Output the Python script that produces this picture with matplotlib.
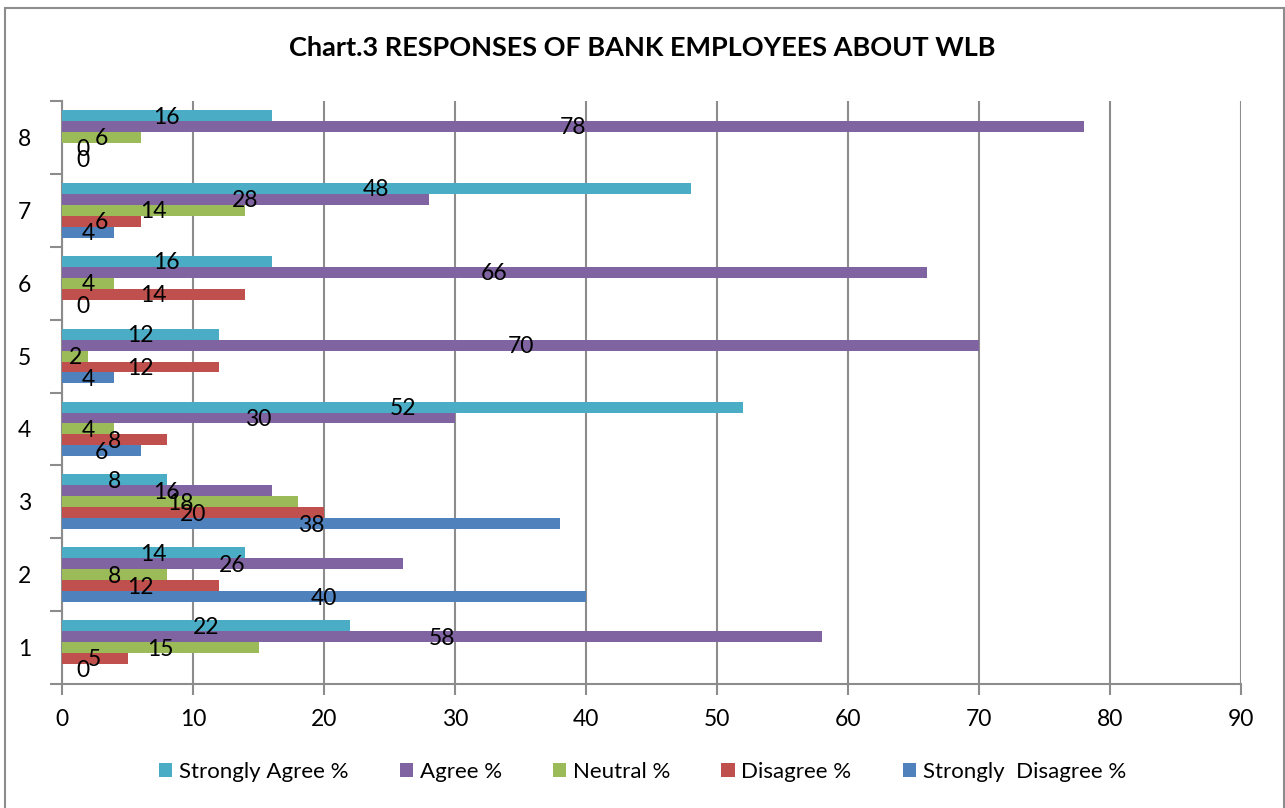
import numpy as np
import matplotlib.pyplot as plt
from matplotlib.patches import Rectangle

plt.rcParams['font.family'] = ['Lato', 'DejaVu Sans']

# Data
categories = ['1', '2', '3', '4', '5', '6', '7', '8']
strongly_disagree = [0, 40, 38, 6, 4, 0, 4, 0]
disagree = [5, 12, 20, 8, 12, 14, 6, 0]
neutral = [15, 8, 18, 4, 2, 4, 14, 6]
agree = [58, 26, 16, 30, 70, 66, 28, 78]
strongly_agree = [22, 14, 8, 52, 12, 16, 48, 16]

series = [
    ('Strongly  Disagree %', strongly_disagree, '#4F81BD'),
    ('Disagree %', disagree, '#C0504D'),
    ('Neutral %', neutral, '#9BBB59'),
    ('Agree %', agree, '#8064A2'),
    ('Strongly Agree %', strongly_agree, '#4BACC6'),
]

fig = plt.figure(figsize=(12.85, 8.08), dpi=100)
ax = fig.add_axes([62/1285, 1 - 684/808, (1241 - 62)/1285, (684 - 101)/808])

# outer chart border
fig.patches.append(Rectangle((5/1285, -0.01), (1284 - 5)/1285, 1 - 8/808 + 0.01,
                             transform=fig.transFigure, fill=False,
                             edgecolor='#8C8C8C', linewidth=1.5))

y = np.arange(len(categories))
h = 0.15
handles = {}
for i, (name, vals, col) in enumerate(series):
    pos = y + (i - 2) * h
    b = ax.barh(pos, vals, height=h, color=col, edgecolor='none', zorder=3)
    handles[name] = b
    for p, v in zip(pos, vals):
        xc = v / 2 if v > 0 else 1.6
        ax.text(xc, p - 0.02, str(v), ha='center', va='center', fontsize=16.5,
                color='black', zorder=5)

ax.set_xlim(0, 90)
ax.set_ylim(-0.5, len(categories) - 0.5)
ax.set_xticks(np.arange(0, 91, 10))
ax.set_yticks(y)
ax.set_yticklabels(categories)
ax.set_yticks(np.arange(-0.5, len(categories), 1), minor=True)
ax.tick_params(axis='y', which='major', length=0, pad=22, labelsize=16.5)
ax.tick_params(axis='y', which='minor', length=9, width=1.5, color='#8C8C8C')
ax.tick_params(axis='x', length=8, width=1.5, color='#8C8C8C', labelsize=16.5, pad=10)
ax.grid(axis='x', color='#8C8C8C', linewidth=1.5, zorder=0)
for s in ['top', 'right']:
    ax.spines[s].set_visible(False)
for s in ['left', 'bottom']:
    ax.spines[s].set_color('#8C8C8C')
    ax.spines[s].set_linewidth(1.5)

fig.text(0.5, 1 - 48/808, 'Chart.3 RESPONSES OF BANK EMPLOYEES ABOUT WLB',
         ha='center', va='center', fontsize=19.5, fontweight='bold')

order = ['Strongly Agree %', 'Agree %', 'Neutral %', 'Disagree %', 'Strongly  Disagree %']
fig.legend([handles[n] for n in order], order, loc='center',
           bbox_to_anchor=(0.5, 1 - 772/808), ncol=5, frameon=False,
           fontsize=16, handlelength=0.6, handleheight=0.6, handletextpad=0.3,
           columnspacing=2.3)

fig.savefig('out.png', dpi=100)
